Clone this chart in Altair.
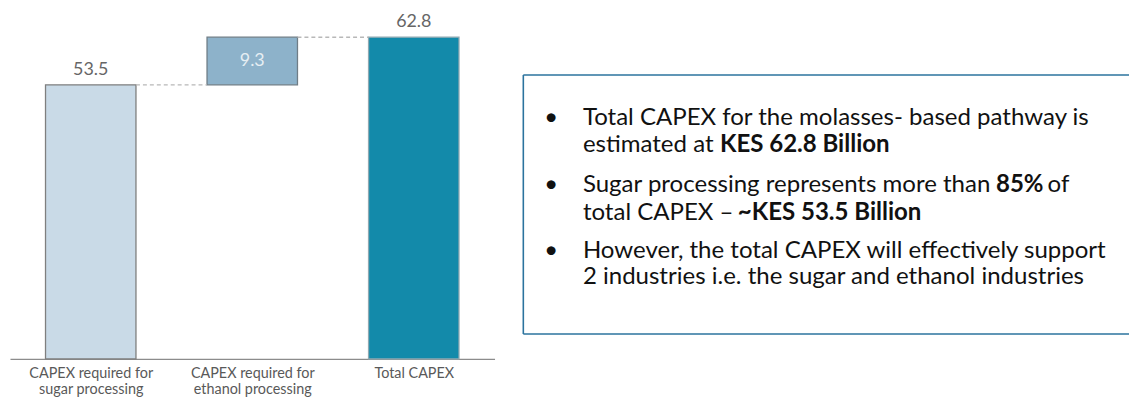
import json
import altair as alt
import pandas as pd

# ---------------- data ----------------
categories = ["CAPEX required  for|sugar processing",
              "CAPEX required for|ethanol processing",
              "Total CAPEX"]
bar_start = [0.0, 53.5, 0.0]
bar_end = [53.5, 62.8, 62.8]
bar_labels = ["53.5", "9.3", "62.8"]
bar_colors = ["#c9dae7", "#8db2ca", "#138aaa"]
stroke_colors = ["#7f7f7f", "#6f7d86", "#8fa9b2"]
label_inside = [False, True, False]

bullet_lines = [
    [("Total CAPEX for the molasses- based pathway is", False)],
    [("estimated at", False), ("KES 62.8 Billion", True)],
    [("Sugar processing represents more than", False), ("85%", True), ("of", False)],
    [("total CAPEX \u2013", False), ("~KES 53.5 Billion", True)],
    [("However, the total CAPEX will effectively support", False)],
    [("2 industries i.e. the sugar and ethanol industries", False)],
]
bullet_starts = [0, 2, 4]

# ---------------- layout (pixels, relative to plot origin) ----------------
W, H = 488, 324
HALF = 0.28
line_y = [81, 109, 149, 177, 215, 242]
seg_x = [[577], [577, 715], [577, 993, 1045], [577, 733], [577], [577]]
bullet_x = 545
box_x, box_x2, box_y, box_y2 = 517, 1200, 38, 299
TXT_FONT = "Lato"
TXT_SIZE = 24.2

df = pd.DataFrame({
    "idx": list(range(len(categories))),
    "cat": categories,
    "start": bar_start,
    "end": bar_end,
    "label": bar_labels,
    "color": bar_colors,
    "stroke": stroke_colors,
    "inside": label_inside,
})
df["mid"] = (df["start"] + df["end"]) / 2

conn = pd.DataFrame({
    "i": list(range(len(categories) - 1)),
    "y": bar_end[:-1],
})

xscale = alt.Scale(domain=[-0.5, len(categories) - 0.5], nice=False, zero=False)
yscale = alt.Scale(domain=[0, max(bar_end)], nice=False, zero=True)

label_expr = "split(" + json.dumps(categories) + "[datum.value], '|')"

base = alt.Chart(df)

bars = base.transform_calculate(
    x_lo=f"datum.idx - {HALF}", x_hi=f"datum.idx + {HALF}"
).mark_rect(strokeWidth=1.3).encode(
    x=alt.X("x_lo:Q", scale=xscale,
            axis=alt.Axis(values=list(range(len(categories))), labelExpr=label_expr,
                          title=None, grid=False, ticks=False, tickSize=0,
                          labelPadding=8, labelFont="Lato", labelFontSize=14.5,
                          labelColor="#595959", labelLineHeight=15.5,
                          labelOverlap=False, labelFlush=False, labelBound=False,
                          domainColor="#8c8c8c", domainWidth=1.2)),
    x2="x_hi:Q",
    y=alt.Y("start:Q", scale=yscale, axis=None),
    y2="end:Q",
    fill=alt.Color("color:N", scale=None),
    stroke=alt.Color("stroke:N", scale=None),
)

connectors = alt.Chart(conn).transform_calculate(
    x_a=f"datum.i + {HALF}", x_b=f"datum.i + 1 - {HALF}"
).mark_rule(color="#b8b8b8", strokeDash=[4, 3], strokeWidth=1.4).encode(
    x=alt.X("x_a:Q", scale=xscale),
    x2="x_b:Q",
    y=alt.Y("y:Q", scale=yscale),
)

labels_above = base.transform_filter("!datum.inside").mark_text(
    baseline="bottom", dy=-6, font="Lato", fontSize=18, color="#666666"
).encode(
    x=alt.X("idx:Q", scale=xscale),
    y=alt.Y("end:Q", scale=yscale),
    text="label:N",
)

labels_inside = base.transform_filter("datum.inside").mark_text(
    baseline="middle", font="Lato", fontSize=18, color="#e6eef3"
).encode(
    x=alt.X("idx:Q", scale=xscale),
    y=alt.Y("mid:Q", scale=yscale),
    text="label:N",
)

one = alt.Data(values=[{"a": 1}])

box_rule = dict(color="#2b739e", strokeWidth=1.6)
box_layers = [
    alt.Chart(one).mark_rule(**box_rule).encode(
        x=alt.value(box_x), x2=alt.value(box_x2), y=alt.value(box_y)),
    alt.Chart(one).mark_rule(**box_rule).encode(
        x=alt.value(box_x), x2=alt.value(box_x2), y=alt.value(box_y2)),
    alt.Chart(one).mark_rule(**box_rule).encode(
        x=alt.value(box_x), y=alt.value(box_y), y2=alt.value(box_y2)),
]

text_layers = []
for li, segs in enumerate(bullet_lines):
    for si, (txt, bold) in enumerate(segs):
        text_layers.append(
            alt.Chart(one).mark_text(
                align="left", baseline="middle", font=TXT_FONT, fontSize=TXT_SIZE,
                fontWeight="bold" if bold else "normal", color="#111111",
            ).encode(x=alt.value(seg_x[li][si]), y=alt.value(line_y[li]),
                     text=alt.value(txt))
        )
for b in bullet_starts:
    text_layers.append(
        alt.Chart(one).mark_text(
            align="center", baseline="middle", font=TXT_FONT, fontSize=24, color="#111111"
        ).encode(x=alt.value(bullet_x), y=alt.value(line_y[b]), text=alt.value("\u2022"))
    )

chart = alt.layer(
    bars, connectors, labels_above, labels_inside, *box_layers, *text_layers
).properties(
    width=W, height=H,
    padding={"left": 2, "top": 28, "right": 639, "bottom": 41},
    autosize=alt.AutoSizeParams(type="none"),
).configure_view(stroke=None)

chart.save("out.html", embed_options={"renderer": "svg", "actions": False})
